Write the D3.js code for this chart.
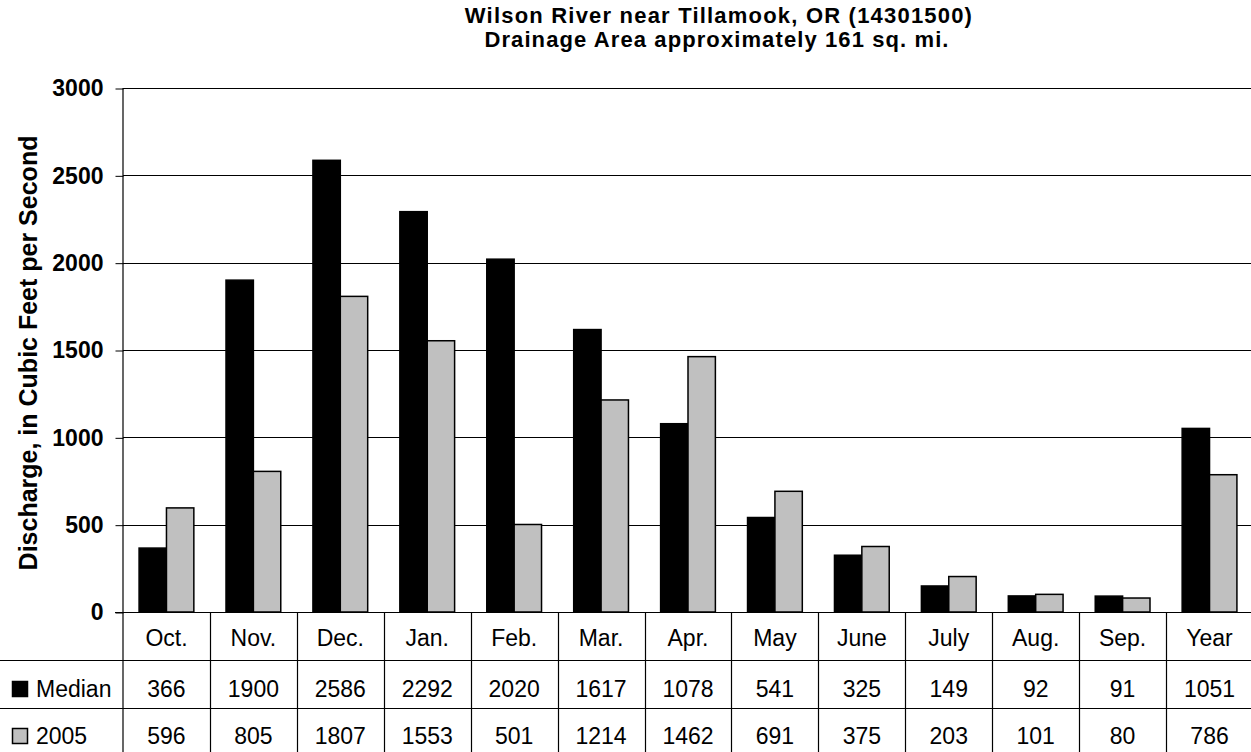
<!DOCTYPE html>
<html>
<head>
<meta charset="utf-8">
<script src="https://cdn.jsdelivr.net/npm/d3@7"></script>
<style>
  body { margin: 0; background: #fff; }
  svg { display: block; font-family: "Liberation Sans", Arial, sans-serif; }
</style>
</head>
<body>
<svg width="1251" height="752"></svg>
<script>
const months = ['Oct.', 'Nov.', 'Dec.', 'Jan.', 'Feb.', 'Mar.', 'Apr.', 'May', 'June', 'July', 'Aug.', 'Sep.', 'Year'];
const median = [366, 1900, 2586, 2292, 2020, 1617, 1078, 541, 325, 149, 92, 91, 1051];
const y2005 = [596, 805, 1807, 1553, 501, 1214, 1462, 691, 375, 203, 101, 80, 786];
const seriesNames = ['Median', '2005'];
const yTicks = [0, 500, 1000, 1500, 2000, 2500, 3000];

const rows = months.map((m, i) => ({ month: m, Median: median[i], '2005': y2005[i] }));

const svg = d3.select('svg');
const plotLeft = 123, plotRight = 1253, plotTop = 88, plotBottom = 612;
const rowY = [612, 660, 708, 752];

const x0 = d3.scaleBand().domain(months).range([plotLeft, plotRight]);
const bw = x0.bandwidth();
const x1 = d3.scaleBand().domain(seriesNames).range([bw * 0.185, bw * 0.815]);
const y = d3.scaleLinear().domain([0, 3000]).range([plotBottom, plotTop]);
const fill = { Median: '#000000', '2005': '#c0c0c0' };

// title
svg.append('text')
  .attr('x', 719).attr('y', 23)
  .attr('text-anchor', 'middle')
  .attr('font-size', 22).attr('font-weight', 'bold')
  .attr('letter-spacing', 1.2)
  .text('Wilson River near Tillamook, OR (14301500)');
svg.append('text')
  .attr('x', 717).attr('y', 47)
  .attr('text-anchor', 'middle')
  .attr('font-size', 22).attr('font-weight', 'bold')
  .attr('letter-spacing', 1.1)
  .text('Drainage Area approximately 161 sq. mi.');

// gridlines
svg.append('g')
  .selectAll('line')
  .data(yTicks.filter(d => d > 0))
  .enter()
  .append('line')
  .attr('x1', plotLeft).attr('x2', plotRight)
  .attr('y1', d => Math.round(y(d)) + 0.5)
  .attr('y2', d => Math.round(y(d)) + 0.5)
  .attr('stroke', '#000');

// y axis
const yAxis = svg.append('g')
  .attr('transform', `translate(${plotLeft + 0.5},0.5)`)
  .call(d3.axisLeft(y).tickValues(yTicks).tickFormat(d3.format('d'))
    .tickSize(8).tickPadding(12).tickSizeOuter(0));
yAxis.select('.domain').remove();
yAxis.selectAll('text')
  .attr('font-size', 23).attr('font-weight', 'bold')
  .attr('font-family', '"Liberation Sans", Arial, sans-serif')
  .attr('fill', '#000');

svg.append('text')
  .attr('transform', `translate(37,${(plotTop + plotBottom) / 2 + 3}) rotate(-90)`)
  .attr('text-anchor', 'middle')
  .attr('font-size', 25).attr('font-weight', 'bold')
  .text('Discharge, in Cubic Feet per Second');

// bars
svg.append('g')
  .selectAll('g')
  .data(rows)
  .enter()
  .append('g')
  .attr('transform', d => `translate(${x0(d.month)},0)`)
  .selectAll('rect')
  .data(d => seriesNames.map(s => ({ key: s, value: d[s] })))
  .enter()
  .append('rect')
  .attr('x', d => x1(d.key))
  .attr('y', d => y(d.value))
  .attr('width', x1.bandwidth())
  .attr('height', d => plotBottom - y(d.value))
  .attr('fill', d => fill[d.key])
  .attr('stroke', '#000')
  .attr('stroke-width', 1.5);

// data table lines
const grid = svg.append('g').attr('stroke', '#000').attr('stroke-width', 1.2);
grid.append('line')
  .attr('x1', plotLeft).attr('x2', plotLeft).attr('y1', plotTop).attr('y2', 752);
grid.append('line')
  .attr('x1', plotLeft - 8).attr('x2', plotRight).attr('y1', plotBottom + 0.5).attr('y2', plotBottom + 0.5);
grid.selectAll('.hrow')
  .data(rowY.slice(1, 3))
  .enter()
  .append('line')
  .attr('x1', 0).attr('x2', plotRight)
  .attr('y1', d => d + 0.5).attr('y2', d => d + 0.5);
grid.selectAll('.vcol')
  .data(months.slice(1))
  .enter()
  .append('line')
  .attr('x1', d => Math.round(x0(d)) + 0.5).attr('x2', d => Math.round(x0(d)) + 0.5)
  .attr('y1', plotBottom).attr('y2', 752);

// table text
const table = svg.append('g').attr('font-size', 23).attr('text-anchor', 'middle');
table.selectAll('.m')
  .data(months)
  .enter()
  .append('text')
  .attr('x', d => x0(d) + bw / 2)
  .attr('y', 646)
  .text(d => d);
table.selectAll('.v1')
  .data(rows)
  .enter()
  .append('text')
  .attr('x', d => x0(d.month) + bw / 2)
  .attr('y', 697)
  .text(d => d.Median);
table.selectAll('.v2')
  .data(rows)
  .enter()
  .append('text')
  .attr('x', d => x0(d.month) + bw / 2)
  .attr('y', 744)
  .text(d => d['2005']);

// legend keys in table
const legendY = [697, 744];
seriesNames.forEach((s, i) => {
  svg.append('rect')
    .attr('x', 12.5).attr('y', legendY[i] - 15.5)
    .attr('width', 15).attr('height', 15)
    .attr('fill', fill[s]).attr('stroke', '#000').attr('stroke-width', 1.5);
  svg.append('text')
    .attr('x', 36).attr('y', legendY[i])
    .attr('font-size', 23)
    .text(s);
});
</script>
</body>
</html>
